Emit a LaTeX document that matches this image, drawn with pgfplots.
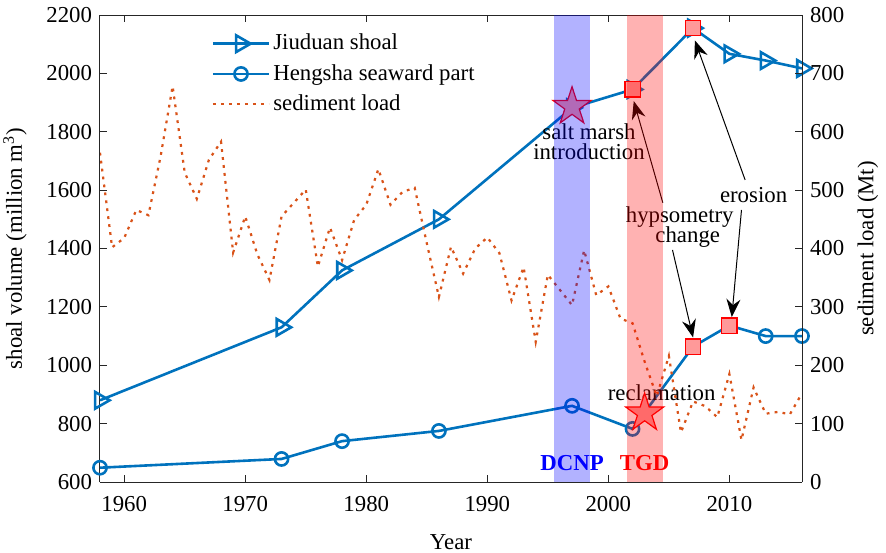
\documentclass[border=0pt]{standalone}
\usepackage{fontspec}
\setmainfont{Liberation Serif}
\usepackage{pgfplots}
\usepackage{pgfplotstable}
\pgfplotsset{compat=1.18}
\usetikzlibrary{arrows.meta,plotmarks}
\definecolor{mblue}{RGB}{0,114,189}
\definecolor{morange}{RGB}{217,83,25}
\definecolor{axgray}{RGB}{38,38,38}

\pgfdeclareplotmark{fstar}{%
  \pgfpathmoveto{\pgfpointpolar{90}{\pgfplotmarksize}}%
  \pgfpathlineto{\pgfpointpolar{126}{0.382\pgfplotmarksize}}%
  \pgfpathlineto{\pgfpointpolar{162}{\pgfplotmarksize}}%
  \pgfpathlineto{\pgfpointpolar{198}{0.382\pgfplotmarksize}}%
  \pgfpathlineto{\pgfpointpolar{234}{\pgfplotmarksize}}%
  \pgfpathlineto{\pgfpointpolar{270}{0.382\pgfplotmarksize}}%
  \pgfpathlineto{\pgfpointpolar{306}{\pgfplotmarksize}}%
  \pgfpathlineto{\pgfpointpolar{342}{0.382\pgfplotmarksize}}%
  \pgfpathlineto{\pgfpointpolar{18}{\pgfplotmarksize}}%
  \pgfpathlineto{\pgfpointpolar{54}{0.382\pgfplotmarksize}}%
  \pgfpathclose
  \pgfusepathqfillstroke
}

\pgfplotstableread{
year load
1958 564
1959 402
1960 418
1961 466
1962 457
1963 557
1964 678
1965 530
1966 485
1967 552
1968 583
1969 393
1970 455
1971 390
1972 346
1973 455
1974 478
1975 501
1976 369
1977 436
1978 380
1979 449
1980 475
1981 536
1982 475
1983 497
1984 504
1985 409
1986 317
1987 403
1988 357
1989 400
1990 419
1991 392
1992 311
1993 368
1994 240
1995 355
1996 329
1997 303
1998 397
1999 320
2000 335
2001 280
2002 272
2003 206
2004 147
2005 216
2006 85
2007 138
2008 130
2009 111
2010 185
2011 72
2012 162
2013 117
2014 120
2015 116
2016 152
}\sedtable

\pgfplotstableread{
year vol
1958 880
1973 1130
1978 1325
1986 1500
1997 1882
2002 1945
2007 2155
2010 2067
2013 2044
2016 2017
}\jiuduan

\pgfplotstableread{
year vol
1958 649
1973 679
1978 740
1986 775
1997 861
2002 782
2007 1064
2010 1136
2013 1100
2016 1100
}\hengsha

\begin{document}
\fontsize{11.4}{13.5}\selectfont
\begin{tikzpicture}
\pgfplotsset{
  every axis/.append style={
    scale only axis, width=351pt, height=233.5pt,
    xmin=1958, xmax=2016,
    axis line style={axgray, line width=0.5pt},
    tick style={axgray, line width=0.5pt},
    major tick length=3.5pt,
    tick align=inside,
    /pgf/number format/assume math mode=true,
    /pgf/number format/1000 sep={},
    ticklabel style={text=black},
  }
}
\begin{axis}[name=ax,
  axis y line*=left,
  ymin=600, ymax=2200,
  ytick={600,800,...,2200},
  xtick={1960,1970,...,2010},
  xlabel={Year},
  ylabel={shoal volume (million m\textsuperscript{3})},
  xlabel style={at={(axis description cs:0.5,-0.095)}, anchor=north},
  ylabel style={at={(axis description cs:-0.121,0.5)}, anchor=center},
  xticklabel style={yshift=-3pt},
  legend style={at={(0.15,0.975)}, anchor=north west, draw=none, fill=none,
    row sep=2.5pt, nodes={inner sep=1.5pt}},
  legend cell align=left,
  legend image code/.code={\draw[mark repeat=2,mark phase=2,#1] plot coordinates {(0pt,0pt) (14pt,0pt) (28pt,0pt)};},
]
\addplot[mblue, line width=1.3pt, mark=triangle, mark size=4.8pt,
  mark options={rotate=-90, solid, line width=1.3pt}] table {\jiuduan};
\addlegendentry{Jiuduan shoal}
\addplot[mblue, line width=1.3pt, mark=o, mark size=3.3pt,
  mark options={solid, line width=1.3pt}] table {\hengsha};
\addlegendentry{Hengsha seaward part}
\addlegendimage{morange, line width=1.1pt, dash pattern=on 1.4pt off 2.6pt}
\addlegendentry{sediment load}

% highlighted points
\addplot[forget plot, only marks, mark=square*, mark size=3.8pt,
  mark options={draw=red, fill=red!40, line width=0.6pt}]
  coordinates {(2002,1945) (2007,2155) (2007,1064) (2010,1136)};
% stars
\addplot[forget plot, only marks, mark=fstar, mark size=10pt,
  mark options={draw=red, fill=red!40, line width=0.6pt}]
  coordinates {(1997,1886) (2003,836)};

% annotations
\node[inner sep=0pt, align=center] at (axis cs:1998.4,1765) {salt marsh\\[-3.5pt]introduction};
\node[inner sep=0pt, align=center] at (axis cs:2005.9,1474) {hypsometry\\[-3.5pt]\hspace*{8pt}change};
\node[inner sep=0pt] at (axis cs:2012.0,1583) {erosion};
\node[inner sep=0pt] at (axis cs:2004.4,905) {reclamation};

\draw[black, line width=0.5pt, -{Stealth[length=9pt, width=7pt, inset=3pt]}]
  (axis cs:2004.5,1557) -- (axis cs:2002.1,1905);
\draw[black, line width=0.5pt, -{Stealth[length=9pt, width=7pt, inset=3pt]}]
  (axis cs:2011.3,1635) -- (axis cs:2007.15,2113);
\draw[black, line width=0.5pt, -{Stealth[length=9pt, width=7pt, inset=3pt]}]
  (axis cs:2005.3,1395) -- (axis cs:2007.0,1095);
\draw[black, line width=0.5pt, -{Stealth[length=9pt, width=7pt, inset=3pt]}]
  (axis cs:2011.0,1532) -- (axis cs:2010.2,1165);
\end{axis}

\begin{axis}[
  axis x line=none,
  axis y line*=right,
  ymin=0, ymax=800,
  ytick={0,100,...,800},
  ylabel={sediment load (Mt)},
  ylabel style={at={(axis description cs:1.094,0.5)}, anchor=center, rotate=0},
]
\addplot[morange, line width=1.1pt, dash pattern=on 1.4pt off 2.6pt] table {\sedtable};
\fill[blue, opacity=0.3] (axis cs:1995.5,0) rectangle (axis cs:1998.5,800);
\fill[red, opacity=0.3] (axis cs:2001.5,0) rectangle (axis cs:2004.5,800);
\node[text=blue, font=\bfseries] at (axis cs:1997,32) {DCNP};
\node[text=red, font=\bfseries] at (axis cs:2003,32) {TGD};
\end{axis}

\pgfresetboundingbox
\path[use as bounding box] ([shift={(-50pt,-35pt)}]ax.south west) rectangle ([shift={(42pt,7.5pt)}]ax.north east);
\end{tikzpicture}
\end{document}
